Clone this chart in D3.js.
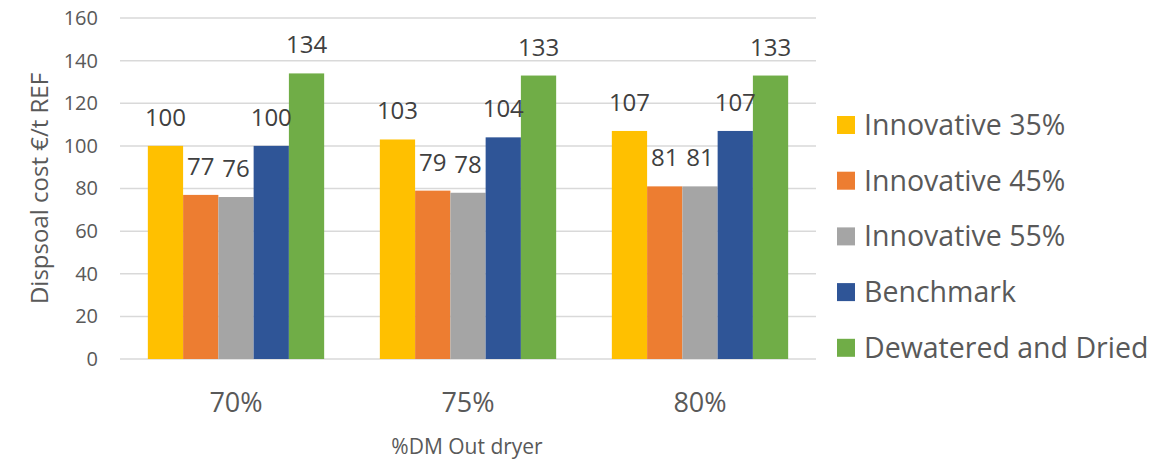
<!DOCTYPE html>
<html>
<head>
<meta charset="utf-8">
<script src="https://cdn.jsdelivr.net/npm/d3@7"></script>
<style>
  html, body { margin: 0; padding: 0; background: #fff; }
  svg { display: block; font-family: "Open Sans", sans-serif; }
</style>
</head>
<body>
<svg id="chart" width="1166" height="459"></svg>
<script>
const categories = ["70%", "75%", "80%"];
const seriesNames = ["Innovative 35%", "Innovative 45%", "Innovative 55%", "Benchmark", "Dewatered and Dried"];
const innovative35 = [100, 103, 107];
const innovative45 = [77, 79, 81];
const innovative55 = [76, 78, 81];
const benchmark = [100, 104, 107];
const dewateredDried = [134, 133, 133];
const yTicks = [0, 20, 40, 60, 80, 100, 120, 140, 160];
const colors = ["#FFC000", "#ED7D31", "#A5A5A5", "#2F5597", "#70AD47"];

const seriesValues = [innovative35, innovative45, innovative55, benchmark, dewateredDried];

const svg = d3.select("#chart");
const plotLeft = 120, plotRight = 816, plotTop = 18, plotBottom = 359;

const x = d3.scaleBand().domain(categories).range([plotLeft, plotRight]).paddingInner(0.24).paddingOuter(0.12);
const xs = d3.scaleBand().domain(seriesNames).range([0, x.bandwidth()]);
const y = d3.scaleLinear().domain([0, 160]).range([plotBottom, plotTop]);

// gridlines
svg.append("g").selectAll("line").data(yTicks).join("line")
  .attr("x1", plotLeft).attr("x2", plotRight)
  .attr("y1", d => y(d)).attr("y2", d => y(d))
  .attr("stroke", "#D9D9D9").attr("stroke-width", 1.5);

// y axis labels
const yAxis = d3.axisLeft(y).tickValues(yTicks).tickSize(0).tickPadding(0);
const yg = svg.append("g").attr("transform", `translate(98,0)`).call(yAxis);
yg.select(".domain").remove();
yg.selectAll("text").attr("font-size", 20).attr("fill", "#595959")
  .attr("font-family", "Open Sans, sans-serif");

// bars
const data = [];
categories.forEach((c, i) => {
  seriesNames.forEach((s, j) => data.push({cat: c, series: s, value: seriesValues[j][i], idx: j}));
});

svg.append("g").selectAll("rect").data(data).join("rect")
  .attr("x", d => x(d.cat) + xs(d.series))
  .attr("y", d => y(d.value))
  .attr("width", xs.bandwidth())
  .attr("height", d => y(0) - y(d.value))
  .attr("fill", d => colors[d.idx]);

// value labels
svg.append("g").selectAll("text").data(data).join("text")
  .attr("x", d => x(d.cat) + xs(d.series) + xs.bandwidth() / 2)
  .attr("y", d => y(d.value) - 20)
  .attr("text-anchor", "middle")
  .attr("font-size", 24)
  .attr("fill", "#404040")
  .text(d => d.value);

// x axis labels
const xAxis = d3.axisBottom(x).tickSize(0).tickPadding(0);
const xg = svg.append("g").attr("transform", `translate(0,412)`).call(xAxis);
xg.select(".domain").remove();
xg.selectAll("text").attr("font-size", 27).attr("fill", "#595959")
  .attr("font-family", "Open Sans, sans-serif").attr("dy", 0);

// axis titles
svg.append("text")
  .attr("x", 467).attr("y", 454)
  .attr("text-anchor", "middle")
  .attr("font-size", 21).attr("fill", "#595959")
  .text("%DM Out dryer");

svg.append("text")
  .attr("transform", `translate(48,${(plotTop + plotBottom) / 2}) rotate(-90)`)
  .attr("text-anchor", "middle")
  .attr("font-size", 24).attr("fill", "#595959")
  .text("Dispsoal cost €/t REF");

// legend
const legend = svg.append("g").selectAll("g").data(seriesNames).join("g")
  .attr("transform", (d, i) => `translate(837,${125 + i * 55.7})`);
legend.append("rect").attr("x", 0).attr("y", -9).attr("width", 18).attr("height", 18)
  .attr("fill", (d, i) => colors[i]);
legend.append("text").attr("x", 27).attr("y", 0).attr("dy", "0.35em")
  .attr("font-size", 28.5).attr("fill", "#595959")
  .text(d => d);
</script>
</body>
</html>
